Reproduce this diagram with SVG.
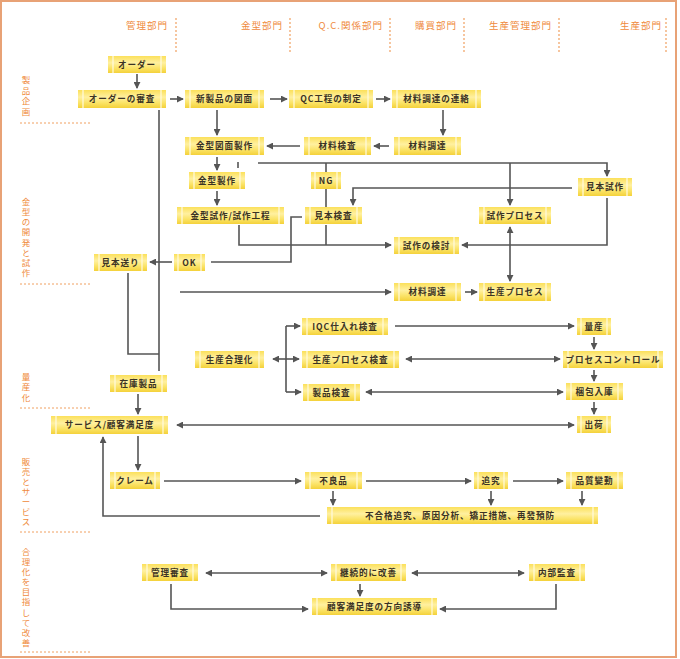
<svg xmlns="http://www.w3.org/2000/svg" width="680" height="659" viewBox="0 0 680 659">
<style>
.hdr{font-family:"Noto Sans CJK JP","Noto Sans",sans-serif;font-size:9.5px;fill:#ef8a3c;letter-spacing:1px;text-anchor:end}
.side{font-family:"Noto Sans CJK JP","Noto Sans",sans-serif;font-size:8.5px;fill:#ef8a3c;writing-mode:vertical-rl;text-orientation:upright;font-feature-settings:"vert" 0}
.vdot{stroke:#f0a060;stroke-width:1.2;stroke-dasharray:2,2;fill:none}
.sep{stroke:#f0a060;stroke-width:1;stroke-dasharray:2,2;fill:none}
.box{fill:url(#yg)}
.hl{stroke:#fffbe0;stroke-width:1.2}
.t{font-family:"Noto Sans CJK JP","Noto Sans",sans-serif;font-size:8.6px;font-weight:bold;fill:#3b3324;letter-spacing:0.9px;text-anchor:middle}
.c{stroke:#555;stroke-width:1.6;fill:none}
.a{marker-end:url(#ah)}
.d{marker-start:url(#ah);marker-end:url(#ah)}
</style>
<defs>
<linearGradient id="yg" x1="0" y1="0" x2="0" y2="1">
<stop offset="0" stop-color="#fbe05a"/>
<stop offset="0.4" stop-color="#fff0a0"/>
<stop offset="0.7" stop-color="#fbe469"/>
<stop offset="1" stop-color="#f4d13a"/>
</linearGradient>
<marker id="ah" viewBox="0 0 8 8" refX="7" refY="4" markerWidth="7" markerHeight="7" markerUnits="userSpaceOnUse" orient="auto-start-reverse">
<path d="M0,0 L8,4 L0,8 z" fill="#555"/>
</marker>
</defs>
<rect x="1" y="1" width="675" height="656" fill="#fff" stroke="#e8a276" stroke-width="2"/>
<g id="headers">
<text class="hdr" x="168" y="29">管理部門</text>
<text class="hdr" x="283" y="29">金型部門</text>
<text class="hdr" x="383" y="29">Q.C.関係部門</text>
<text class="hdr" x="457" y="29">購買部門</text>
<text class="hdr" x="552" y="29">生産管理部門</text>
<text class="hdr" x="662" y="29">生産部門</text>
<path class="vdot" d="M176,18V53M290,18V53M390,18V53M464,18V53M559,18V53M666,18V53"/>
</g>
<g id="phases">
<text class="side" x="26" y="75.5" style="letter-spacing:2.2px">製品企画</text>
<text class="side" x="26" y="197.5" style="letter-spacing:1.65px">金型の開発と試作</text>
<text class="side" x="26" y="372.5" style="letter-spacing:2px">量産化</text>
<text class="side" x="26" y="457.5" style="letter-spacing:1.5px">販売とサービス</text>
<text class="side" x="26" y="547.5" style="letter-spacing:1.6px">合理化を目指して改善</text>
<path class="sep" d="M20,123H92M20,284H92M20,408H92M20,532H92M20,652H92"/>
</g>
<g id="connectors">
<path class="c a" d="M137,74V88"/>
<path class="c a" d="M170,99H183"/>
<path class="c a" d="M270,99H287"/>
<path class="c a" d="M376,99H390"/>
<path class="c a" d="M443,110V135"/>
<path class="c a" d="M389,146H374"/>
<path class="c a" d="M300,146H267"/>
<path class="c a" d="M217,110V135"/>
<path class="c a" d="M217,157V170"/>
<path class="c" d="M238,162V168"/>
<path class="c a" d="M258,163H607V176"/>
<path class="c a" d="M510,163V205"/>
<path class="c" d="M326,163V172"/>
<path class="c a" d="M217,191V205"/>
<path class="c" d="M326,189V207"/>
<path class="c a" d="M572,188H353V205"/>
<path class="c a" d="M607,198V245H462"/>
<path class="c d" d="M510,227V281"/>
<path class="c a" d="M239,225V245H391"/>
<path class="c" d="M326,225V245"/>
<path class="c" d="M302,217H291V262H211"/>
<path class="c a" d="M172,262H150"/>
<path class="c" d="M159,110V371"/>
<path class="c" d="M128,273V354H159"/>
<path class="c a" d="M180,292H391"/>
<path class="c a" d="M465,292H477"/>
<path class="c d" d="M273,359H299"/>
<path class="c a" d="M286,326H300"/>
<path class="c a" d="M286,392H301"/>
<path class="c" d="M286,326V392"/>
<path class="c a" d="M395,326H574"/>
<path class="c d" d="M406,359H560"/>
<path class="c d" d="M366,392H563"/>
<path class="c a" d="M594,337V349"/>
<path class="c a" d="M594,370V381"/>
<path class="c a" d="M594,402V414"/>
<path class="c a" d="M138,394V414"/>
<path class="c d" d="M177,425H574"/>
<path class="c a" d="M138,436V470"/>
<path class="c a" d="M320,516H103V437"/>
<path class="c a" d="M164,481H301"/>
<path class="c a" d="M366,481H471"/>
<path class="c a" d="M513,481H563"/>
<path class="c a" d="M333,491V505"/>
<path class="c a" d="M491,491V505"/>
<path class="c a" d="M582,491V505"/>
<path class="c d" d="M206,573H327"/>
<path class="c d" d="M412,573H524"/>
<path class="c a" d="M360,584V596"/>
<path class="c a" d="M171,584V609H308"/>
<path class="c a" d="M556,584V609H440"/>
</g>
<g id="n-order"><rect class="box" x="108" y="56" width="58" height="17"/><path class="hl" d="M113,56v17M161,56v17"/><text class="t" x="137" y="67.5">オーダー</text></g>
<g id="n-review"><rect class="box" x="78" y="90" width="88" height="18"/><path class="hl" d="M83,90v18M161,90v18"/><text class="t" x="122" y="102">オーダーの審査</text></g>
<g id="n-newdraw"><rect class="box" x="185" y="90" width="79" height="18"/><path class="hl" d="M190,90v18M259,90v18"/><text class="t" x="224.5" y="102">新製品の図面</text></g>
<g id="n-qc"><rect class="box" x="289" y="90" width="84" height="18"/><path class="hl" d="M294,90v18M368,90v18"/><text class="t" x="331" y="102">QC工程の制定</text></g>
<g id="n-matnotice"><rect class="box" x="392" y="90" width="89" height="18"/><path class="hl" d="M397,90v18M476,90v18"/><text class="t" x="436.5" y="102">材料調達の連絡</text></g>
<g id="n-molddraw"><rect class="box" x="185" y="137" width="79" height="18"/><path class="hl" d="M190,137v18M259,137v18"/><text class="t" x="224.5" y="149">金型図面製作</text></g>
<g id="n-matinspect"><rect class="box" x="304" y="137" width="67" height="18"/><path class="hl" d="M309,137v18M366,137v18"/><text class="t" x="337.5" y="149">材料検査</text></g>
<g id="n-matproc1"><rect class="box" x="394" y="137" width="67" height="18"/><path class="hl" d="M399,137v18M456,137v18"/><text class="t" x="427.5" y="149">材料調達</text></g>
<g id="n-moldmake"><rect class="box" x="189" y="172" width="56" height="17"/><path class="hl" d="M194,172v17M240,172v17"/><text class="t" x="217" y="183.5">金型製作</text></g>
<g id="n-ng"><rect class="box" x="311" y="172" width="30" height="17"/><path class="hl" d="M315,172v17M337,172v17"/><text class="t" x="326" y="183.5">NG</text></g>
<g id="n-samplemake"><rect class="box" x="578" y="178" width="54" height="18"/><path class="hl" d="M583,178v18M627,178v18"/><text class="t" x="605" y="190">見本試作</text></g>
<g id="n-moldtrial"><rect class="box" x="177" y="207" width="107" height="17"/><path class="hl" d="M182,207v17M279,207v17"/><text class="t" x="230.5" y="218.5">金型試作/試作工程</text></g>
<g id="n-sampleinsp"><rect class="box" x="305" y="207" width="57" height="17"/><path class="hl" d="M310,207v17M357,207v17"/><text class="t" x="333.5" y="218.5">見本検査</text></g>
<g id="n-trialproc"><rect class="box" x="479" y="207" width="72" height="17"/><path class="hl" d="M484,207v17M546,207v17"/><text class="t" x="515" y="218.5">試作プロセス</text></g>
<g id="n-trialreview"><rect class="box" x="394" y="237" width="65" height="17"/><path class="hl" d="M399,237v17M454,237v17"/><text class="t" x="426.5" y="248.5">試作の検討</text></g>
<g id="n-samplesend"><rect class="box" x="94" y="254" width="53" height="17"/><path class="hl" d="M99,254v17M142,254v17"/><text class="t" x="120.5" y="265.5">見本送り</text></g>
<g id="n-ok"><rect class="box" x="174" y="254" width="31" height="17"/><path class="hl" d="M178,254v17M201,254v17"/><text class="t" x="189.5" y="265.5">OK</text></g>
<g id="n-matproc2"><rect class="box" x="394" y="283" width="67" height="18"/><path class="hl" d="M399,283v18M456,283v18"/><text class="t" x="427.5" y="295">材料調達</text></g>
<g id="n-prodproc"><rect class="box" x="479" y="283" width="72" height="18"/><path class="hl" d="M484,283v18M546,283v18"/><text class="t" x="515" y="295">生産プロセス</text></g>
<g id="n-iqc"><rect class="box" x="302" y="318" width="86" height="17"/><path class="hl" d="M307,318v17M383,318v17"/><text class="t" x="345" y="329.5">IQC仕入れ検査</text></g>
<g id="n-rational"><rect class="box" x="195" y="351" width="69" height="17"/><path class="hl" d="M200,351v17M259,351v17"/><text class="t" x="229.5" y="362.5">生産合理化</text></g>
<g id="n-procinsp"><rect class="box" x="302" y="351" width="97" height="17"/><path class="hl" d="M307,351v17M394,351v17"/><text class="t" x="350.5" y="362.5">生産プロセス検査</text></g>
<g id="n-prodinsp"><rect class="box" x="303" y="384" width="57" height="17"/><path class="hl" d="M308,384v17M355,384v17"/><text class="t" x="331.5" y="395.5">製品検査</text></g>
<g id="n-massprod"><rect class="box" x="577" y="318" width="34" height="17"/><path class="hl" d="M581,318v17M607,318v17"/><text class="t" x="594" y="329.5">量産</text></g>
<g id="n-procctrl"><rect class="box" x="563" y="351" width="100" height="17"/><path class="hl" d="M568,351v17M658,351v17"/><text class="t" x="613" y="362.5">プロセスコントロール</text></g>
<g id="n-pack"><rect class="box" x="566" y="383" width="57" height="17"/><path class="hl" d="M571,383v17M618,383v17"/><text class="t" x="594.5" y="394.5">梱包入庫</text></g>
<g id="n-ship"><rect class="box" x="577" y="416" width="34" height="17"/><path class="hl" d="M581,416v17M607,416v17"/><text class="t" x="594" y="427.5">出荷</text></g>
<g id="n-stock"><rect class="box" x="110" y="375" width="57" height="17"/><path class="hl" d="M115,375v17M162,375v17"/><text class="t" x="138.5" y="386.5">在庫製品</text></g>
<g id="n-service"><rect class="box" x="51" y="416" width="117" height="18"/><path class="hl" d="M56,416v18M163,416v18"/><text class="t" x="109.5" y="428">サービス/顧客満足度</text></g>
<g id="n-claim"><rect class="box" x="110" y="472" width="50" height="17"/><path class="hl" d="M115,472v17M155,472v17"/><text class="t" x="135" y="483.5">クレーム</text></g>
<g id="n-defect"><rect class="box" x="305" y="472" width="57" height="17"/><path class="hl" d="M310,472v17M357,472v17"/><text class="t" x="333.5" y="483.5">不良品</text></g>
<g id="n-pursue"><rect class="box" x="474" y="472" width="34" height="17"/><path class="hl" d="M478,472v17M504,472v17"/><text class="t" x="491" y="483.5">追究</text></g>
<g id="n-qualitychange"><rect class="box" x="566" y="472" width="57" height="17"/><path class="hl" d="M571,472v17M618,472v17"/><text class="t" x="594.5" y="483.5">品質變動</text></g>
<g id="n-actions"><rect class="box" x="327" y="507" width="271" height="17"/><path class="hl" d="M332,507v17M593,507v17"/><text class="t" x="460" y="518.5">不合格追究、原因分析、矯正措施、再發預防</text></g>
<g id="n-mgmtreview"><rect class="box" x="142" y="564" width="56" height="17"/><path class="hl" d="M147,564v17M193,564v17"/><text class="t" x="170" y="575.5">管理審査</text></g>
<g id="n-continuous"><rect class="box" x="331" y="564" width="75" height="17"/><path class="hl" d="M336,564v17M401,564v17"/><text class="t" x="368.5" y="575.5">継続的に改善</text></g>
<g id="n-audit"><rect class="box" x="529" y="564" width="56" height="17"/><path class="hl" d="M534,564v17M580,564v17"/><text class="t" x="557" y="575.5">内部監査</text></g>
<g id="n-guide"><rect class="box" x="312" y="598" width="125" height="17"/><path class="hl" d="M317,598v17M432,598v17"/><text class="t" x="374.5" y="609.5">顧客満足度の方向誘導</text></g>
</svg>
